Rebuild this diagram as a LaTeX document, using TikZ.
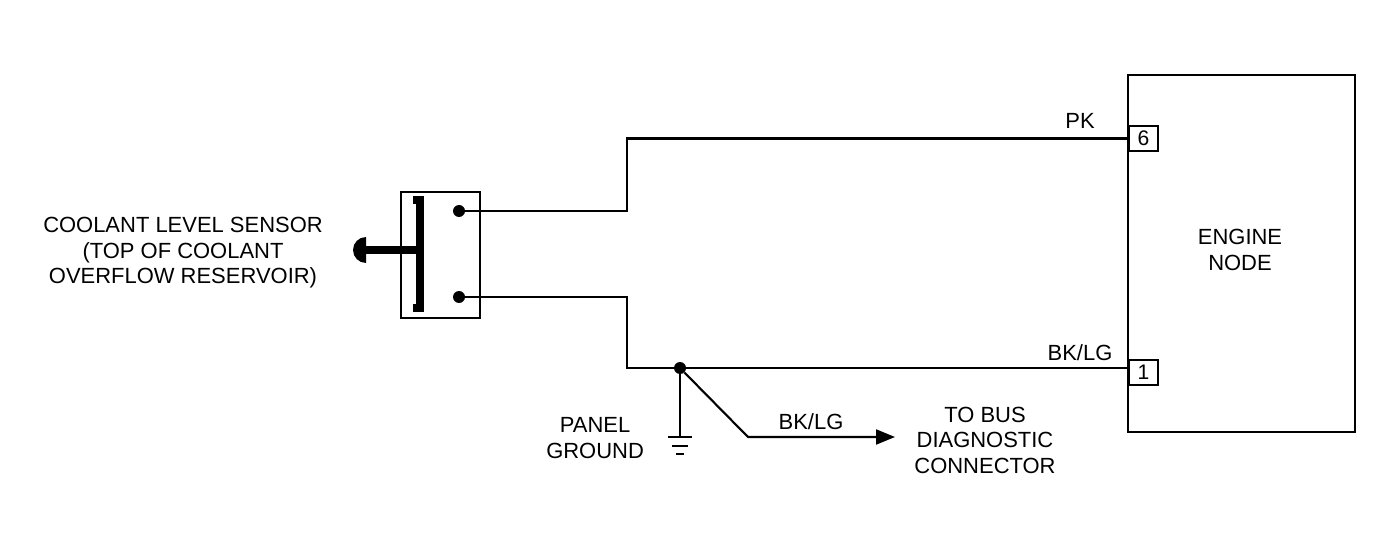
\documentclass[tikz,border=0pt]{standalone}
\usepackage{fontspec}
\setmainfont{Liberation Sans}
\usetikzlibrary{arrows.meta,positioning}

\tikzset{
  wire/.style={line width=1.2pt},
  lbl/.style={font=\fontsize{12.5}{14.5}\selectfont, inner sep=1pt},
  pin/.style={draw, line width=1.2pt, minimum width=0.58cm, minimum height=0.5cm, inner sep=0pt, font=\fontsize{12}{14}\selectfont},
  dot/.style={circle, fill, inner sep=0pt, minimum size=0.24cm}
}

\begin{document}
\begin{tikzpicture}[x=0.02cm, y=-0.02cm]
    \useasboundingbox (0,0) rectangle (1392,550);

    % Sensor
    \draw[line width=1.2pt] (401,192) rectangle (480,318);
    \draw[line width=4pt] (413,200) -- (420,200) -- (420,308) -- (413,308);
    \draw[line width=5pt] (366,250) -- (420,250);
    \fill (366,250) ++(0,0.26cm) arc[start angle=90, end angle=270, radius=0.26cm] -- cycle;
    \node[dot] (s1) at (459,211) {};
    \node[dot] (s2) at (459,297) {};
    \node[lbl, align=center] (sname) at (183,253) {COOLANT LEVEL SENSOR\\(TOP OF COOLANT\\OVERFLOW RESERVOIR)};

    % Engine node
    \draw[line width=1.2pt] (1128,75) rectangle (1355,432);
    \node[lbl, align=center] (ename) at (1240,250) {ENGINE\\NODE};
    \node[pin, anchor=north west] (p6) at (1128,125) {6};
    \node[pin, anchor=north west] (p1) at (1128,359) {1};

    % Wires
    \coordinate (a1) at (627,211);
    \coordinate (a2) at (627,297);
    \draw[wire] (s1) -- (a1) -- (a1 |- p6.west) -- (p6.west);
    \node[dot] (j) at (680,368) {};
    \draw[wire] (s2) -- (a2) -- (a2 |- j) -- (j) -- (j -| p1.west);
    \node[lbl] at (1080,121) {PK};
    \node[lbl] at (1080,353) {BK/LG};

    % Ground
    \coordinate (g) at (680,437);
    \draw[wire] (j) -- (g);
    \draw[wire] (668,437) -- (692,437);
    \draw[wire] (672,446) -- (688,446);
    \draw[wire] (676,454) -- (684,454);
    \node[lbl, align=center, anchor=east] (pg) at (646,438) {PANEL\\GROUND};

    % Diagnostic branch
    \coordinate (d) at (748,437);
    \coordinate (dt) at (895,437);
    \draw[wire, -{Triangle[length=0.38cm, width=0.3cm]}] (j) -- (d) -- (dt);
    \node[lbl] at (811,422) {BK/LG};
    \node[lbl, align=center] (bus) at (985,440) {TO BUS\\DIAGNOSTIC\\CONNECTOR};
\end{tikzpicture}
\end{document}
